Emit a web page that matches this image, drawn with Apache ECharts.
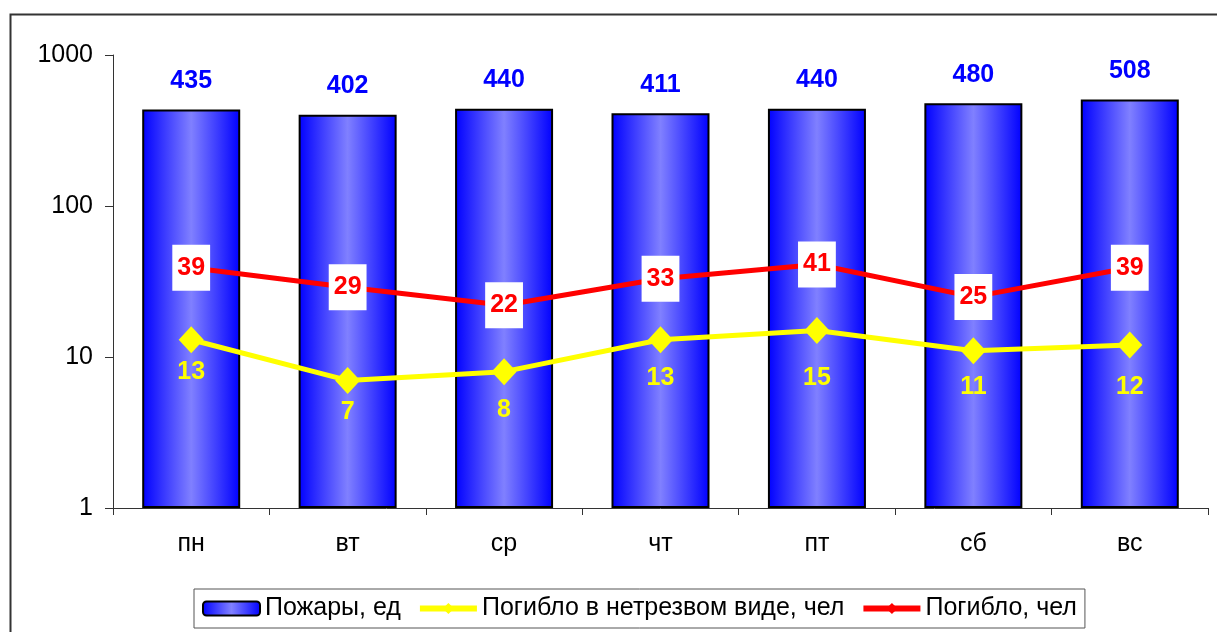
<!DOCTYPE html>
<html>
<head>
<meta charset="utf-8">
<script src="https://cdn.jsdelivr.net/npm/echarts@6/dist/echarts.min.js"></script>
<style>
html,body{margin:0;padding:0;background:#fff;}
#chart{width:1217px;height:632px;}
</style>
</head>
<body>
<div id="chart"></div>
<script>
const categories = ['пн', 'вт', 'ср', 'чт', 'пт', 'сб', 'вс'];
const fires = [435, 402, 440, 411, 440, 480, 508];
const drunkDeaths = [13, 7, 8, 13, 15, 11, 12];
const deaths = [39, 29, 22, 33, 41, 25, 39];
const seriesNames = ['Пожары, ед', 'Погибло в нетрезвом виде, чел', 'Погибло, чел'];
// extra downward shift (px) of the yellow value labels, as placed in the original
const drunkLabelShift = [0, 0, 6, 6, 16, 4, 10];

const FONT = 'Liberation Sans, Arial, sans-serif';
const FS = 25;
const chart = echarts.init(document.getElementById('chart'));
chart.setOption({
  animation: false,
  textStyle: { fontFamily: FONT },
  graphic: [{
    type: 'rect', left: 8, top: 12, z: -10,
    shape: { width: 1400, height: 800 },
    style: { fill: 'none', stroke: '#333', lineWidth: 2 }
  }],
  grid: { left: 113, right: 9, top: 55, bottom: 124 },
  legend: {
    left: 194, top: 589,
    itemWidth: 57, itemHeight: 14, itemGap: 16,
    borderColor: '#555', borderWidth: 1,
    padding: [7, 8, 7, 8],
    textStyle: { fontSize: FS, color: '#000', fontFamily: FONT },
    data: [
      { name: seriesNames[0], itemStyle: { borderWidth: 2, borderColor: '#000' } },
      { name: seriesNames[1], lineStyle: { width: 6 } },
      { name: seriesNames[2], lineStyle: { width: 6 } }
    ]
  },
  xAxis: {
    type: 'category', data: categories,
    axisLine: { lineStyle: { color: '#333', width: 1 } },
    axisTick: { show: true, length: 7, lineStyle: { color: '#333' } },
    axisLabel: { fontSize: FS, color: '#000', margin: 24, fontFamily: FONT }
  },
  yAxis: {
    type: 'log', logBase: 10, min: 1, max: 1000,
    axisLine: { show: true, lineStyle: { color: '#333', width: 1 } },
    axisTick: { show: true, length: 8, lineStyle: { color: '#333' } },
    axisLabel: { fontSize: FS, color: '#000', margin: 20, fontFamily: FONT, formatter: v => String(v) },
    splitLine: { show: false }
  },
  series: [
    {
      name: seriesNames[0], type: 'bar', data: fires, barWidth: 98,
      itemStyle: {
        borderColor: '#000', borderWidth: 2,
        color: new echarts.graphic.LinearGradient(0, 0, 1, 0, [
          { offset: 0, color: '#0000ff' },
          { offset: 0.5, color: '#8080ff' },
          { offset: 1, color: '#0000ff' }
        ])
      },
      label: { show: true, position: 'top', distance: 16, color: '#0000ff', fontSize: FS, fontWeight: 'bold', fontFamily: FONT }
    },
    {
      name: seriesNames[1], type: 'line',
      data: drunkDeaths.map((v, i) => ({ value: v, label: { offset: [0, drunkLabelShift[i]] } })),
      symbol: 'diamond', symbolSize: [25, 27],
      lineStyle: { color: '#ffff00', width: 5 },
      itemStyle: { color: '#ffff00' },
      label: { show: true, position: 'bottom', distance: 6, color: '#ffff00', fontSize: FS, fontWeight: 'bold', fontFamily: FONT },
      z: 3
    },
    {
      name: seriesNames[2], type: 'line', data: deaths,
      symbol: 'diamond', symbolSize: 12,
      lineStyle: { color: '#ff0000', width: 5 },
      itemStyle: { color: '#ff0000' },
      label: { show: true, position: 'inside', color: '#ff0000', fontSize: FS, fontWeight: 'bold', fontFamily: FONT,
               backgroundColor: '#fff', padding: [11, 5, 10, 5] },
      z: 4
    }
  ]
});
</script>
</body>
</html>
